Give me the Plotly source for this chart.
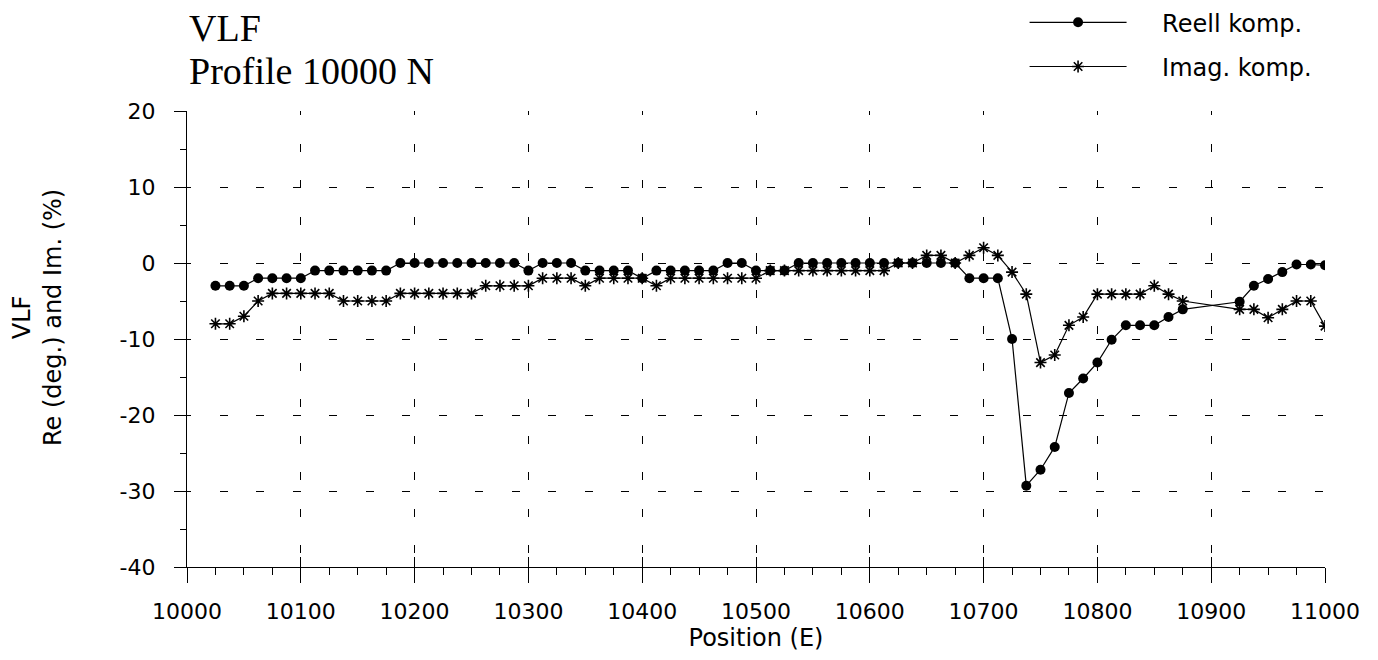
import plotly.graph_objects as go

# ---- data ----
pos_re = [10025, 10037.5, 10050, 10062.5, 10075, 10087.5, 10100, 10112.5, 10125, 10137.5,
          10150, 10162.5, 10175, 10187.5, 10200, 10212.5, 10225, 10237.5, 10250, 10262.5,
          10275, 10287.5, 10300, 10312.5, 10325, 10337.5, 10350, 10362.5, 10375, 10387.5,
          10400, 10412.5, 10425, 10437.5, 10450, 10462.5, 10475, 10487.5, 10500, 10512.5,
          10525, 10537.5, 10550, 10562.5, 10575, 10587.5, 10600, 10612.5, 10625, 10637.5,
          10650, 10662.5, 10675, 10687.5, 10700, 10712.5, 10725, 10737.5, 10750, 10762.5,
          10775, 10787.5, 10800, 10812.5, 10825, 10837.5, 10850, 10862.5, 10875,
          10925, 10937.5, 10950, 10962.5, 10975, 10987.5, 11000]
reell = [-3, -3, -3, -2, -2, -2, -2, -1, -1, -1,
         -1, -1, -1, 0, 0, 0, 0, 0, 0, 0,
         0, 0, -1, 0, 0, 0, -1, -1, -1, -1,
         -2, -1, -1, -1, -1, -1, 0, 0, -1, -1,
         -1, 0, 0, 0, 0, 0, 0, 0, 0, 0,
         0, 0, 0, -2, -2, -2, -10, -29.3, -27.2, -24.2,
         -17.1, -15.2, -13.1, -10.1, -8.2, -8.2, -8.2, -7.1, -6.1,
         -5.1, -3, -2.1, -1.2, -0.2, -0.2, -0.3]

pos_im = pos_re
imag = [-8, -8, -7, -5, -4, -4, -4, -4, -4, -5,
        -5, -5, -5, -4, -4, -4, -4, -4, -4, -3,
        -3, -3, -3, -2, -2, -2, -3, -2, -2, -2,
        -2, -3, -2, -2, -2, -2, -2, -2, -2, -1,
        -1, -1, -1, -1, -1, -1, -1, -1, 0, 0,
        1, 1, 0, 1, 2, 1, -1.2, -4.1, -13.1, -12.1,
        -8.2, -7.1, -4.1, -4.1, -4.1, -4.1, -3, -4.1, -5,
        -6.1, -6.1, -7.2, -6.1, -5, -5, -8.3]

x_ticks = [10000, 10100, 10200, 10300, 10400, 10500, 10600, 10700, 10800, 10900, 11000]
y_ticks = [20, 10, 0, -10, -20, -30, -40]

SANS = "DejaVu Sans"
SERIF = "Liberation Serif"
GRIDDASH = "4px,28.5px,4px,0px"
NB = "\u00a0"

fig = go.Figure()
fig.add_trace(go.Scatter(
    x=pos_re, y=reell, name=NB * 4 + "Reell komp.", mode="lines+markers",
    line=dict(color="black", width=1.2),
    marker=dict(symbol="circle", size=10, color="black"),
    legendgroup="a"))
fig.add_trace(go.Scatter(
    x=pos_im, y=imag, name=NB * 4 + "Imag. komp.", mode="lines+markers",
    line=dict(color="black", width=1.2),
    marker=dict(symbol="asterisk-open", size=10, color="black",
                line=dict(width=1.6, color="black")),
    legendgroup="b"))
# helper trace on overlay axis carrying inside ticks
fig.add_trace(go.Scatter(x=pos_re, y=reell, xaxis="x2", mode="lines",
                         opacity=0, showlegend=False, hoverinfo="skip"))

fig.update_layout(
    width=1378, height=660,
    margin=dict(l=187, r=53, t=111, b=93, autoexpand=False),
    paper_bgcolor="white", plot_bgcolor="white",
    font=dict(family=SANS, size=24, color="black"),
    xaxis=dict(
        range=[10000, 11000], tickvals=x_ticks, ticktext=[str(v) for v in x_ticks],
        ticks="outside", ticklen=15, tickwidth=1, tickcolor="black",
        showline=True, linecolor="black", linewidth=1.2,
        showgrid=True, gridcolor="black", gridwidth=1, griddash=GRIDDASH,
        zeroline=False, tickfont=dict(family=SANS, size=22), ticklabelstandoff=9,
        minor=dict(dtick=25, tick0=10000, ticks="outside", ticklen=7,
                   tickcolor="black", showgrid=False),
        title=dict(text="Position (E)", font=dict(family=SANS, size=24), standoff=6),
    ),
    xaxis2=dict(
        range=[10000, 11000], overlaying="x", anchor="y", side="bottom",
        tickvals=x_ticks, ticks="inside", ticklen=10, tickcolor="black",
        showticklabels=False, showgrid=False, showline=False, zeroline=False,
    ),
    yaxis=dict(
        range=[-40, 20], tickvals=y_ticks, ticktext=[str(v) for v in y_ticks],
        ticks="outside", ticklen=12, tickwidth=1, tickcolor="black",
        showline=True, linecolor="black", linewidth=1.2,
        showgrid=True, gridcolor="black", gridwidth=1, griddash=GRIDDASH,
        zeroline=False, tickfont=dict(family=SANS, size=22), ticklabelstandoff=14,
        minor=dict(dtick=5, tick0=0, ticks="outside", ticklen=6,
                   tickcolor="black", showgrid=False),
    ),
    showlegend=True,
    legend=dict(
        x=0.736, y=1.243, xanchor="left", yanchor="top",
        font=dict(family=SANS, size=24), itemwidth=97,
        tracegroupgap=10, traceorder="grouped", bgcolor="rgba(0,0,0,0)",
    ),
    annotations=[
        dict(text="VLF", xref="paper", yref="paper", x=0, y=1.232,
             xanchor="left", yanchor="top", showarrow=False,
             font=dict(family=SERIF, size=38)),
        dict(text="Profile 10000 N", xref="paper", yref="paper", x=0, y=1.138,
             xanchor="left", yanchor="top", showarrow=False,
             font=dict(family=SERIF, size=38)),
        dict(text="VLF<br>Re (deg.) and Im. (%)", xref="paper", yref="paper",
             x=-0.1318, y=0.546, xanchor="center", yanchor="middle",
             textangle=-90, showarrow=False,
             font=dict(family=SANS, size=24)),
    ],
)

fig.write_html("out.html")
